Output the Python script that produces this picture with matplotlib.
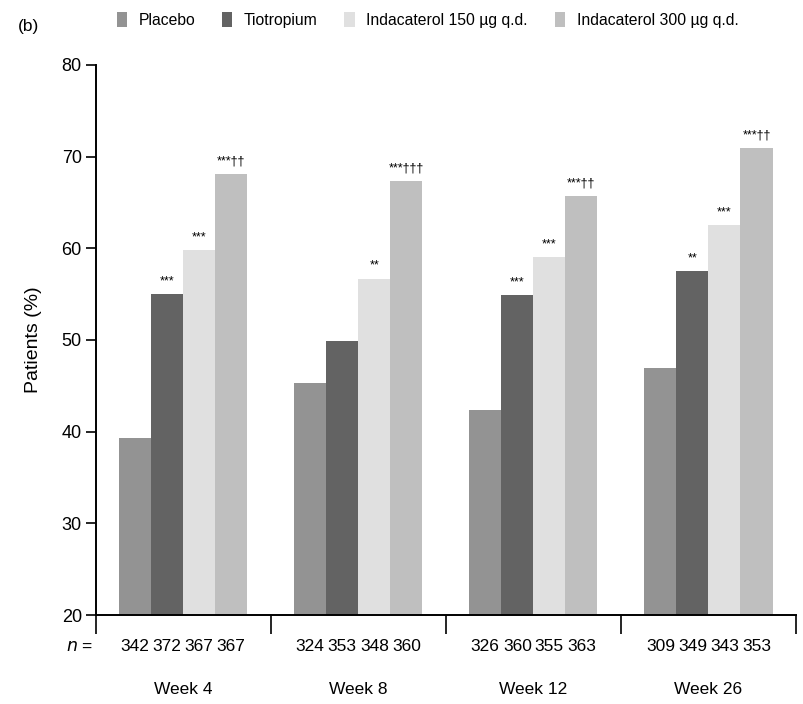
import matplotlib
matplotlib.use("Agg")
import matplotlib.pyplot as plt
import matplotlib.transforms as mtransforms
from matplotlib.patches import Patch
import numpy as np

plt.rcParams['font.family'] = ['Liberation Sans Narrow', 'Liberation Sans', 'DejaVu Sans']

# Responder data per visit
weeks = ["Week 4", "Week 8", "Week 12", "Week 26"]
treatments = ["Placebo", "Tiotropium", "Indacaterol 150 \u00b5g q.d.", "Indacaterol 300 \u00b5g q.d."]
colors = ["#939393", "#636363", "#e0e0e0", "#bfbfbf"]

placebo = [39.3, 45.3, 42.4, 46.9]
tiotropium = [55.0, 49.9, 54.9, 57.5]
inda150 = [59.8, 56.7, 59.0, 62.5]
inda300 = [68.1, 67.3, 65.7, 70.9]

placebo_n = [342, 324, 326, 309]
tiotropium_n = [372, 353, 360, 349]
inda150_n = [367, 348, 355, 343]
inda300_n = [367, 360, 363, 353]

placebo_sig = ["", "", "", ""]
tiotropium_sig = ["***", "", "***", "**"]
inda150_sig = ["***", "**", "***", "***"]
inda300_sig = ["***\u2020\u2020", "***\u2020\u2020\u2020", "***\u2020\u2020", "***\u2020\u2020"]

series = [placebo, tiotropium, inda150, inda300]
counts = [placebo_n, tiotropium_n, inda150_n, inda300_n]
sigs = [placebo_sig, tiotropium_sig, inda150_sig, inda300_sig]

fig = plt.figure(figsize=(8.04, 7.04), dpi=100)
ax = fig.add_axes([0.119, 0.1264, 0.871, 0.7813])

x = np.arange(len(weeks))
width = 0.183
offsets = (np.arange(4) - 1.5) * width

label_y = mtransforms.blended_transform_factory(ax.transData, ax.transAxes)

for i in range(4):
    bars = ax.bar(x + offsets[i], series[i], width, color=colors[i],
                  edgecolor="none", zorder=2)
    for j, bar in enumerate(bars):
        cx = bar.get_x() + bar.get_width() / 2
        if sigs[i][j]:
            ax.annotate(sigs[i][j], (cx, series[i][j]), xytext=(0, 5),
                        textcoords="offset points", ha="center", va="bottom",
                        fontsize=9)
        ax.text(cx, -0.058, str(counts[i][j]), transform=label_y,
                ha="center", va="center", fontsize=12.5)

for j, w in enumerate(weeks):
    ax.text(x[j], -0.136, w, transform=label_y, ha="center", va="center", fontsize=12.5)

ax.text(-0.003, -0.058, "$n$ =", transform=ax.transAxes, ha="right", va="center",
        fontsize=12.5)

ax.set_ylim(20, 80)
ax.set_xlim(-0.5, 3.5)
ax.set_yticks(range(20, 81, 10))
ax.tick_params(axis="y", direction="out", length=7, width=1.2, labelsize=13, pad=3)
ax.set_xticks(np.arange(-0.5, 4, 1))
ax.set_xticklabels([])
ax.tick_params(axis="x", direction="out", length=14, width=1.2)
for side in ["top", "right"]:
    ax.spines[side].set_visible(False)
for side in ["left", "bottom"]:
    ax.spines[side].set_linewidth(1.4)

ax.set_ylabel("Patients (%)", fontsize=14, family=['Liberation Sans', 'DejaVu Sans'], labelpad=14)

handles = [Patch(facecolor=c, edgecolor="none") for c in colors]
fig.legend(handles, treatments, loc="center left", bbox_to_anchor=(0.145, 0.972),
           ncol=4, frameon=False, fontsize=11.3, handlelength=0.65, handleheight=1.1,
           handletextpad=0.75, columnspacing=1.7, borderaxespad=0, borderpad=0)

fig.text(0.022, 0.962, "(b)", fontsize=12.5, ha="left", va="center")

plt.savefig("out.png", dpi=100)
plt.close()
